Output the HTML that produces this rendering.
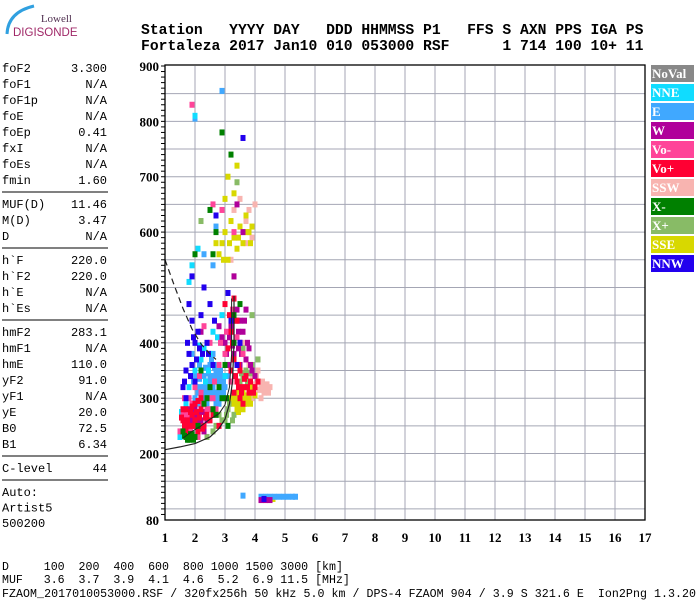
<!DOCTYPE html>
<html><head><meta charset="utf-8">
<style>
body{margin:0;background:#fff;}
#wrap{position:relative;width:700px;height:600px;overflow:hidden;background:#fff;}
.mono{font-family:"Liberation Mono",monospace;}
</style></head>
<body>
<div id="wrap">
<svg id="svg" width="700" height="600" xmlns="http://www.w3.org/2000/svg">
  <g>
    <path d="M 7 34 Q 8 12 34 6" fill="none" stroke="#30a0e0" stroke-width="3"/>
    <text x="72" y="22" font-family="Liberation Serif,serif" font-size="11" fill="#503050" text-anchor="end">Lowell</text>
    <text x="13" y="36" font-family="Liberation Sans,sans-serif" font-size="11.5" fill="#a02868">DIGISONDE</text>
  </g>
  <g class="mono" font-family="Liberation Mono,monospace" font-weight="bold" font-size="14.7">
    <text x="141" y="34" xml:space="preserve">Station   YYYY DAY   DDD HHMMSS P1   FFS S AXN PPS IGA PS</text>
    <text x="141" y="50" xml:space="preserve">Fortaleza 2017 Jan10 010 053000 RSF      1 714 100 10+ 11</text>
  </g>
  <g id="leftpanel" font-family="Liberation Mono,monospace" font-size="12"></g>
  <g id="grid"></g>
  <g id="marks"></g>
  <g id="curves"></g>
  <g id="axes"></g>
  <g id="legend"></g>
  <g font-family="Liberation Mono,monospace" font-size="11.6">
    <text x="2" y="570" xml:space="preserve">D     100  200  400  600  800 1000 1500 3000 [km]</text>
    <text x="2" y="583" xml:space="preserve">MUF   3.6  3.7  3.9  4.1  4.6  5.2  6.9 11.5 [MHz]</text>
    <text x="2" y="597" xml:space="preserve" textLength="694">FZAOM_2017010053000.RSF / 320fx256h 50 kHz 5.0 km / DPS-4 FZAOM 904 / 3.9 S 321.6 E  Ion2Png 1.3.20</text>
  </g>
</svg>
</div>
<script>
const xTicks=[1,2,3,4,5,6,7,8,9,10,11,12,13,14,15,16,17];
const yTickLabels=[900,800,700,600,500,400,300,200,80];
const legendNames=["NoVal","NNE","E","W","Vo-","Vo+","SSW","X-","X+","SSE","NNW"];
const legendColors=["#888888","#10dcff","#40a8ff","#b0009a","#ff4499","#ff0033","#f8b4b0","#008000","#88bb66","#d8d800","#2200ee"];
const paramNames=["foF2","foF1","foF1p","foE","foEp","fxI","foEs","fmin","|","MUF(D)","M(D)","D","|","h`F","h`F2","h`E","h`Es","|","hmF2","hmF1","hmE","yF2","yF1","yE","B0","B1","|","C-level","|"];
const paramValues=["3.300","N/A","N/A","N/A","0.41","N/A","N/A","1.60","","11.46","3.47","N/A","","220.0","220.0","N/A","N/A","","283.1","N/A","110.0","91.0","N/A","20.0","72.5","6.34","","44",""];
const autoLines=["Auto:","Artist5","500200"];
const seriesNNE=[[1.5,230],[1.8,320],[2.0,350],[2.2,370],[2.5,380],[2.7,360],[2.9,400],[3.0,340],[2.3,390],[2.6,420],[2.9,450],[1.8,510],[2.0,810],[2.1,570],[1.7,290],[1.55,275],[2.15,395],[2.45,350],[2.75,410],[3.05,360],[1.9,540],[2.35,330]];
const seriesE=[[2.0,300],[2.1,310],[2.2,320],[2.3,300],[2.4,330],[2.5,340],[2.6,320],[2.7,310],[2.8,330],[2.9,340],[2.2,350],[2.5,360],[2.7,350],[2.9,300],[3.0,320],[2.1,290],[2.4,290],[2.6,300],[2.8,290],[2.3,340],[2.0,340],[1.9,380],[2.6,380],[2.8,360],[2.4,310],[2.6,340],[2.2,280],[2.7,290],[3.1,340],[2.3,560],[2.6,540],[2.7,610],[2.0,805],[2.9,855],[1.5,230],[4.2,122],[4.35,122],[4.5,122],[4.65,122],[4.8,122],[4.95,122],[5.1,122],[5.25,122],[5.35,122],[3.6,124],[2.5,310],[2.3,320],[2.8,310],[2.05,320],[2.15,335],[2.35,310],[2.45,320],[2.55,330],[2.65,310],[2.75,340],[2.85,320],[2.95,330],[2.25,300],[2.55,300],[2.85,350],[2.45,345],[2.65,355],[2.15,360],[2.95,310],[1.95,330],[2.75,300],[2.35,355],[2.55,370]];
const seriesW=[[1.9,260],[2.0,250],[2.1,270],[2.2,260],[2.3,240],[1.8,280],[2.4,260],[2.0,280],[3.1,360],[3.3,380],[3.5,400],[3.6,420],[3.7,370],[3.2,430],[3.4,460],[3.8,390],[3.5,440],[3.0,400],[3.9,350],[4.0,340],[3.3,520],[3.4,650],[3.6,600],[2.8,430],[3.7,460],[4.2,116],[4.35,116],[4.5,116],[2.2,420],[3.5,360],[1.95,270],[2.05,260],[2.15,250],[2.25,275],[1.85,265],[3.15,410],[3.25,395],[3.45,420],[3.55,380],[3.65,440],[3.35,440],[3.75,400],[3.05,380],[3.45,390],[2.9,410],[3.85,360]];
const seriesVoMinus=[[1.6,270],[1.8,300],[2.0,320],[2.2,310],[1.7,250],[2.4,280],[2.6,300],[1.9,290],[2.8,360],[2.5,400],[3.0,380],[2.3,430],[3.2,330],[2.6,650],[2.9,640],[1.9,830],[3.3,600],[1.5,240],[3.6,380],[2.1,230],[2.7,280],[3.4,410],[1.65,300],[1.75,270],[2.25,290],[2.45,300],[2.65,330],[2.85,400],[3.05,420],[3.25,460],[2.15,340],[1.85,240],[2.55,280]];
const seriesVoPlus=[[1.6,260],[1.7,240],[1.8,250],[1.9,270],[2.0,260],[2.1,240],[2.2,280],[2.3,250],[2.4,270],[1.7,280],[2.0,290],[2.5,260],[1.8,230],[2.6,270],[3.3,310],[3.4,330],[3.5,300],[3.6,320],[3.7,340],[3.8,310],[3.5,350],[3.3,370],[3.6,290],[4.0,320],[3.1,390],[3.2,420],[3.4,440],[2.8,250],[1.6,280],[2.2,300],[3.0,470],[3.3,480],[3.2,350],[1.65,250],[1.75,260],[1.85,275],[1.95,250],[2.05,275],[2.15,265],[2.25,245],[2.35,265],[1.55,265],[1.9,285],[2.1,295],[3.35,340],[3.45,320],[3.55,310],[3.65,335],[3.75,320],[3.85,330],[3.25,400],[3.15,450],[3.45,360],[3.95,310],[4.1,330]];
const seriesSSW=[[4.0,310],[4.1,330],[4.2,320],[4.3,310],[4.4,325],[4.5,320],[4.2,300],[3.9,340],[4.1,350],[3.8,360],[3.6,600],[3.7,620],[3.8,640],[3.9,590],[3.5,660],[3.7,580],[3.3,640],[4.0,650],[3.6,400],[3.9,300],[3.2,550],[4.15,315],[4.25,330],[4.35,320],[4.05,340],[3.95,325],[4.45,310]];
const seriesXMinus=[[1.7,230],[1.8,225],[1.9,235],[1.6,240],[2.0,230],[2.1,250],[2.3,290],[2.5,320],[2.7,270],[2.9,300],[3.1,250],[2.6,560],[2.7,600],[2.5,640],[2.9,780],[3.2,740],[3.0,360],[3.3,400],[2.2,350],[2.0,560],[3.5,470],[1.75,225],[1.85,235],[1.95,225],[1.65,232],[2.4,300],[2.8,320],[3.05,300],[2.6,280],[3.3,450]];
const seriesXPlus=[[3.0,260],[3.1,280],[3.2,300],[3.3,270],[3.4,290],[3.5,330],[3.6,340],[3.7,350],[3.8,320],[2.8,270],[2.6,240],[2.4,230],[3.9,360],[4.1,370],[3.3,520],[3.4,690],[2.2,620],[3.6,390],[3.9,450],[3.05,270],[3.15,290],[3.25,260],[3.45,320],[3.55,345],[3.75,330],[3.85,345],[2.9,260],[2.7,250]];
const seriesSSE=[[3.3,290],[3.4,280],[3.5,300],[3.6,310],[3.7,290],[3.8,300],[3.9,320],[3.5,320],[3.4,310],[3.6,280],[4.0,305],[3.2,300],[2.8,560],[2.9,580],[3.0,600],[3.1,550],[3.2,620],[3.3,590],[3.4,570],[3.5,610],[3.6,580],[3.7,630],[3.8,600],[3.9,610],[3.0,660],[3.3,670],[2.7,580],[3.1,700],[3.4,720],[4.6,118],[3.35,300],[3.45,290],[3.55,285],[3.65,300],[3.75,305],[3.85,290],[3.55,315],[3.45,275],[3.65,290],[2.95,550],[3.15,580],[3.45,590],[3.75,600],[3.85,580]];
const seriesNNW=[[1.6,320],[1.7,350],[1.8,380],[1.9,360],[2.0,400],[2.1,420],[1.8,470],[1.9,520],[2.2,450],[2.4,400],[2.5,470],[1.7,300],[2.0,330],[3.1,490],[3.2,440],[2.7,630],[3.5,400],[3.6,770],[2.3,500],[1.9,440],[2.6,360],[3.4,360],[4.3,118],[1.65,330],[1.75,400],[1.85,340],[2.05,370],[2.15,390],[2.25,380],[1.95,410],[2.45,380],[2.65,440]];
const dashedCurve=[[1.0,550],[1.3,505],[1.6,462],[1.9,425],[2.2,398],[2.5,380],[2.7,370]];
const outerCurve=[[1.0,207],[1.5,212],[2.0,218],[2.5,230],[2.8,245],[3.0,262],[3.15,290],[3.25,330],[3.3,400],[3.3,485]];
const innerCurve=[[1.6,228],[1.9,240],[2.2,250],[2.5,262],[2.8,272],[3.0,288],[3.15,320],[3.22,380],[3.22,480]];

const NS="http://www.w3.org/2000/svg";
const X0=165,X1=645,Y0=66,YB=520;
function xs(f){return X0+(f-1)*(X1-X0)/16;}
function ys(h){return Y0+(900-h)*(YB-Y0)/820;}
function mk(tag,attrs,parent){const e=document.createElementNS(NS,tag);for(const k in attrs)e.setAttribute(k,attrs[k]);parent.appendChild(e);return e;}

const lp=document.getElementById('leftpanel');
let yy=72;
paramNames.forEach((n,i)=>{
  if(n==="|"){const l=mk('line',{x1:2,x2:108,y1:yy-8,y2:yy-8,stroke:'#000','stroke-width':1},lp);
    
    
    yy+=8;return;}
  const t=mk('text',{x:2,y:yy},lp);t.textContent=n;
  
  
  const v=mk('text',{x:107,y:yy,'text-anchor':'end'},lp);v.textContent=paramValues[i];
  
  
  yy+=16;
});
autoLines.forEach((s,i)=>{const t=mk('text',{x:2,y:496+i*15.5},lp);t.textContent=s;
  
  });

const g=document.getElementById('grid');
for(let f=2;f<=16;f++){const l=mk('line',{x1:xs(f),x2:xs(f),y1:Y0,y2:YB,stroke:'#a4a6b4','stroke-width':1},g);
  
  }
for(let h=100;h<=850;h+=50){const l=mk('line',{x1:X0,x2:X1,y1:ys(h),y2:ys(h),stroke:'#a4a6b4','stroke-width':1},g);
  
  }

const m=document.getElementById('marks');
const seriesList=[null,seriesNNE,seriesE,seriesW,seriesVoMinus,seriesVoPlus,seriesSSW,seriesXMinus,seriesXPlus,seriesSSE,seriesNNW];
const order=[6,8,9,2,1,3,4,5,7,10];
order.forEach(si=>{
  seriesList[si].forEach(p=>{
    const r=mk('rect',{x:xs(p[0])-2.5,y:ys(p[1])-3,width:5,height:6,fill:legendColors[si]},m);
    
    
  });
});

const c=document.getElementById('curves');
function path(pts){return pts.map((p,i)=>(i?'L':'M')+xs(p[0]).toFixed(1)+' '+ys(p[1]).toFixed(1)).join(' ');}
const d1=mk('path',{d:path(dashedCurve),fill:'none',stroke:'#222','stroke-width':1.2,'stroke-dasharray':'6,4'},c);


const d2=mk('path',{d:path(outerCurve),fill:'none',stroke:'#222','stroke-width':1.2},c);


const d3=mk('path',{d:path(innerCurve),fill:'none',stroke:'#222','stroke-width':1},c);



const a=document.getElementById('axes');
const fr=mk('rect',{x:X0,y:Y0-1,width:X1-X0,height:YB-Y0+1,fill:'none',stroke:'#000','stroke-width':1.3},a);


for(let h=90;h<=900;h+=10){const l=mk('line',{x1:X0-4,x2:X0,y1:ys(h),y2:ys(h),stroke:'#000','stroke-width':1},a);
  
  }
yTickLabels.forEach(v=>{const t=mk('text',{x:X0-6,y:ys(v)+5,'text-anchor':'end','font-family':'Liberation Serif,serif','font-weight':'bold','font-size':13},a);
  t.textContent=v;
  
  });
xTicks.forEach(v=>{const t=mk('text',{x:xs(v),y:542,'text-anchor':'middle','font-family':'Liberation Serif,serif','font-weight':'bold','font-size':13},a);
  t.textContent=v;
  
  });

const lg=document.getElementById('legend');
legendNames.forEach((n,i)=>{
  const y=65+i*19;
  const r=mk('rect',{x:651,y:y,width:43,height:17,fill:legendColors[i]},lg);
  
  
  const t=mk('text',{x:652,y:y+13,fill:'#fff','font-family':'Liberation Serif,serif','font-weight':'bold','font-size':13},lg);
  t.textContent=n;
  
  
});
</script>
</body></html>
